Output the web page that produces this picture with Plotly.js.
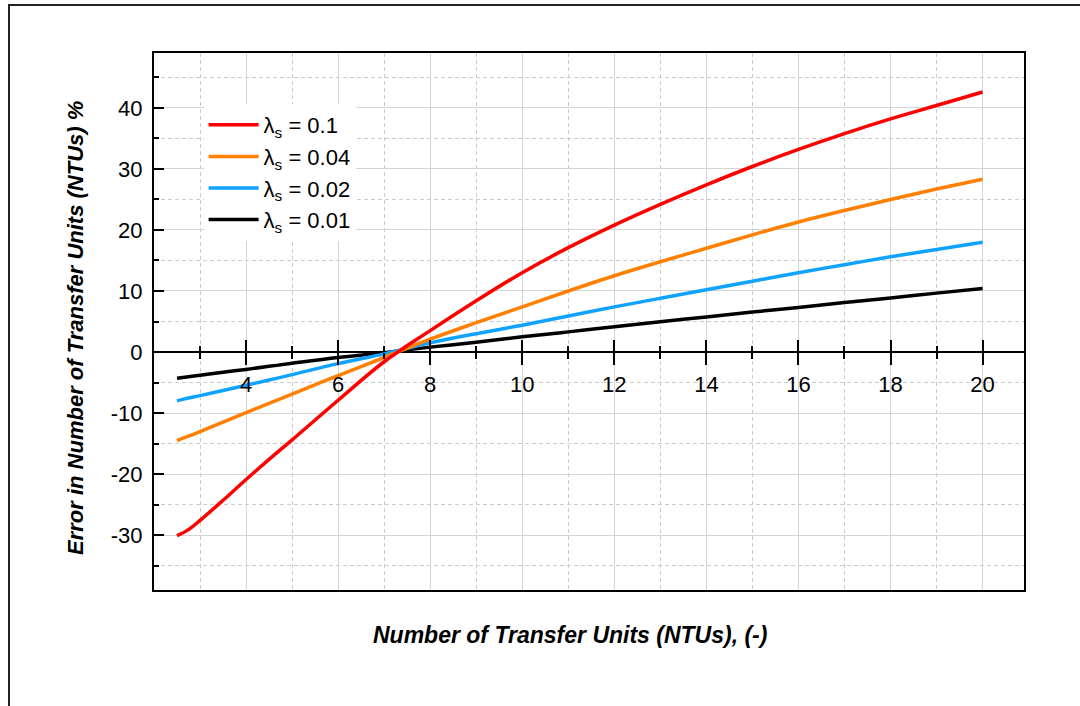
<!DOCTYPE html>
<html>
<head>
<meta charset="utf-8">
<script src="https://cdn.plot.ly/plotly-3.0.1.min.js"></script>
<style>
  html, body { margin: 0; padding: 0; background: #ffffff; }
  #chart { width: 1080px; height: 706px; }
</style>
</head>
<body>
<div id="chart"></div>
<script>
// Number of transfer units (NTU) sampled along each curve
const ntu = [2.5, 2.75, 3, 3.5, 4, 4.5, 5, 6, 7, 8, 9, 10, 11, 12, 13, 14, 15, 16, 17, 18, 19, 20];

// Error in NTU (%) for each storage parameter λs
const err_01  = [-30.1, -29.1, -27.6, -24.3, -20.9, -17.6, -14.4, -7.9, -1.6, 3.5, 8.4, 13.0, 17.1, 20.8, 24.2, 27.4, 30.4, 33.2, 35.8, 38.2, 40.4, 42.6];
const err_004 = [-14.5, -13.8, -13.05, -11.5, -9.95, -8.4, -6.9, -3.85, -0.9, 2.1, 4.8, 7.4, 10.0, 12.5, 14.8, 17.0, 19.2, 21.3, 23.2, 25.0, 26.7, 28.3];
const err_002 = [-8.0, -7.55, -7.15, -6.3, -5.45, -4.6, -3.7, -1.9, -0.3, 1.5, 3.0, 4.4, 5.9, 7.4, 8.8, 10.2, 11.6, 13.0, 14.3, 15.6, 16.8, 18.0];
const err_001 = [-4.3, -4.05, -3.8, -3.3, -2.85, -2.35, -1.85, -0.9, -0.1, 0.8, 1.6, 2.5, 3.3, 4.15, 4.95, 5.75, 6.55, 7.3, 8.1, 8.85, 9.65, 10.4];

const seriesNames = ['λ<sub>s</sub> = 0.01', 'λ<sub>s</sub> = 0.02', 'λ<sub>s</sub> = 0.04', 'λ<sub>s</sub> = 0.1'];
const seriesColors = ['#000000', '#0fa3ff', '#ff8000', '#ff0000'];
const seriesValues = [err_001, err_002, err_004, err_01];
const legendRanks = [4, 3, 2, 1];

// Tick positions
const majorX = [4, 6, 8, 10, 12, 14, 16, 18, 20];
const gridX = [2, 4, 6, 8, 10, 12, 14, 16, 18, 20];
const minorX = [3, 5, 7, 9, 11, 13, 15, 17, 19];
const majorY = [-30, -20, -10, 0, 10, 20, 30, 40];
const minorY = [-35, -25, -15, -5, 5, 15, 25, 35, 45];

const FONT = 'Liberation Sans, Arial, sans-serif';
const xRange = [2, 20.9];
const yRange = [-39, 49];
const GRID_DASH = '4px,3px';

const traces = seriesValues.map((vals, i) => ({
  type: 'scatter',
  mode: 'lines',
  x: ntu,
  y: vals,
  name: seriesNames[i],
  legendgroup: 'g' + i,
  legendrank: legendRanks[i],
  line: { color: seriesColors[i], width: 3.5, shape: 'spline', smoothing: 1 },
  xaxis: 'x',
  yaxis: 'y'
}));

// Empty carriers so the tick axes along y = 0 are drawn
traces.push({ type: 'scatter', x: [], y: [], xaxis: 'x2', yaxis: 'y', showlegend: false, hoverinfo: 'skip' });
traces.push({ type: 'scatter', x: [], y: [], xaxis: 'x3', yaxis: 'y', showlegend: false, hoverinfo: 'skip' });

// Position of y = 0 inside the plot area
const zeroPos = (0 - yRange[0]) / (yRange[1] - yRange[0]);

const tickAxisBase = {
  overlaying: 'x',
  anchor: 'free',
  position: zeroPos,
  side: 'bottom',
  range: xRange,
  tickmode: 'array',
  tickvals: majorX,
  ticktext: majorX.map(String),
  tickwidth: 2,
  tickcolor: '#000000',
  ticklen: 12,
  showline: false,
  showgrid: false,
  zeroline: false,
  fixedrange: true
};

const layout = {
  width: 1080,
  height: 706,
  margin: { l: 154, r: 56, t: 53, b: 116 },
  paper_bgcolor: '#ffffff',
  plot_bgcolor: '#ffffff',
  font: { family: FONT, size: 22, color: '#000000' },
  showlegend: true,
  legend: {
    x: 0.057, y: 0.905, xanchor: 'left', yanchor: 'top',
    bgcolor: '#ffffff', borderwidth: 0,
    traceorder: 'grouped',
    tracegroupgap: 0,
    itemwidth: 50,
    font: { family: FONT, size: 22, color: '#000000' }
  },
  xaxis: {
    range: xRange,
    showline: true, mirror: true, linecolor: '#000000', linewidth: 2,
    ticks: '', showticklabels: false,
    tickmode: 'array', tickvals: gridX,
    showgrid: true, gridcolor: '#d4d4d4', gridwidth: 1,
    zeroline: false,
    minor: { tickmode: 'array', tickvals: minorX, showgrid: true, gridcolor: '#cccccc', griddash: GRID_DASH, gridwidth: 1, ticks: '' },
    fixedrange: true
  },
  xaxis2: Object.assign({}, tickAxisBase, {
    ticks: 'outside',
    showticklabels: true,
    ticklabelstandoff: 1,
    tickfont: { family: FONT, size: 22, color: '#000000' },
    minor: { tickmode: 'array', tickvals: minorX, ticks: 'outside', ticklen: 6, tickwidth: 2, tickcolor: '#000000', showgrid: false }
  }),
  xaxis3: Object.assign({}, tickAxisBase, {
    ticks: 'inside',
    showticklabels: false,
    minor: { tickmode: 'array', tickvals: minorX, ticks: 'inside', ticklen: 6, tickwidth: 2, tickcolor: '#000000', showgrid: false }
  }),
  yaxis: {
    range: yRange,
    showline: true, mirror: true, linecolor: '#000000', linewidth: 2,
    tickmode: 'array', tickvals: majorY, ticktext: majorY.map(String),
    ticks: 'inside', ticklen: 10, tickwidth: 2, tickcolor: '#000000',
    ticklabelstandoff: 5,
    tickfont: { family: FONT, size: 22, color: '#000000' },
    showgrid: true, gridcolor: '#d4d4d4', gridwidth: 1,
    zeroline: true, zerolinecolor: '#000000', zerolinewidth: 2,
    minor: { tickmode: 'array', tickvals: minorY, ticks: 'inside', ticklen: 5, tickwidth: 2, tickcolor: '#000000', showgrid: true, gridcolor: '#cccccc', griddash: GRID_DASH, gridwidth: 1 },
    fixedrange: true
  },
  annotations: [
    {
      text: '<b><i>Number of Transfer Units (NTUs), (-)</i></b>',
      xref: 'paper', yref: 'paper',
      x: (570 - 154) / 870, y: (590 - 635) / 537,
      xanchor: 'center', yanchor: 'middle',
      showarrow: false,
      font: { family: FONT, size: 23, color: '#000000' }
    },
    {
      text: '<b><i>Error in Number of Transfer Units (NTUs) %</i></b>',
      xref: 'paper', yref: 'paper',
      x: (75 - 154) / 870, y: (590 - 328) / 537,
      xanchor: 'center', yanchor: 'middle',
      textangle: -90,
      showarrow: false,
      font: { family: FONT, size: 22, color: '#000000' }
    }
  ],
  shapes: [
    {
      // outer frame around the figure
      type: 'rect', xref: 'paper', yref: 'paper',
      x0: (9 - 154) / 870, x1: 1.2,
      y0: -0.4, y1: (590 - 5) / 537,
      line: { color: '#222222', width: 2 },
      fillcolor: 'rgba(0,0,0,0)',
      layer: 'below'
    }
  ]
};

Plotly.newPlot('chart', traces, layout, { displayModeBar: false, staticPlot: true });
</script>
</body>
</html>
